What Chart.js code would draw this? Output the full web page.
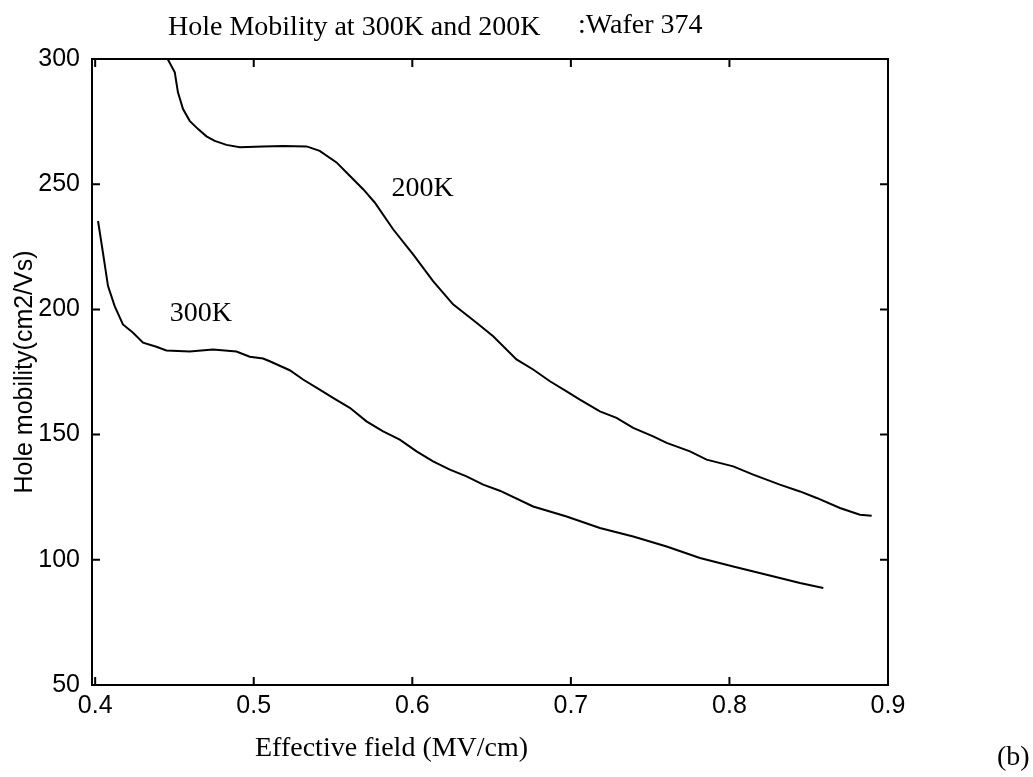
<!DOCTYPE html>
<html>
<head>
<meta charset="utf-8">
<title>Hole Mobility at 300K and 200K</title>
<script src="https://cdn.jsdelivr.net/npm/chart.js@4.4.1/dist/chart.umd.min.js"></script>
<style>
    html, body { margin: 0; padding: 0; background: #fff; }
    canvas { display: block; }
</style>
</head>
<body>
<canvas id="mobilityChart" width="1033" height="777"></canvas>
<script>
// Effective field (MV/cm) and hole mobility (cm2/Vs), 200K sweep
const field200 = [0.4457, 0.4502, 0.4522, 0.4554, 0.4596, 0.4649, 0.4702, 0.4754, 0.4828, 0.4912,
    0.5059, 0.5185, 0.5333, 0.5416, 0.5522, 0.5585, 0.5690, 0.5763, 0.5879, 0.6005,
    0.6131, 0.6257, 0.6405, 0.6510, 0.6657, 0.6762, 0.6868, 0.6973, 0.7057, 0.7183,
    0.7288, 0.7393, 0.7519, 0.7604, 0.7751, 0.7856, 0.8024, 0.8150, 0.8318, 0.8445,
    0.8550, 0.8697, 0.8823, 0.8897];
const mobility200 = [300, 294.7, 286.7, 280, 275.3, 272, 269.1, 267.3, 265.7, 264.8,
    265.1, 265.3, 265.1, 263.3, 258.7, 254.7, 248, 242.7, 232, 222,
    211.3, 202, 194.7, 189.3, 180, 176, 171.3, 167.3, 164, 159.3,
    156.7, 152.7, 149.3, 146.7, 143.3, 140, 137.3, 134, 130, 127.3,
    124.7, 120.7, 118, 117.6];

// 300K sweep
const field300 = [0.4018, 0.4049, 0.4081, 0.4123, 0.4175, 0.4239, 0.4302, 0.4386, 0.4449, 0.4596,
    0.4743, 0.4891, 0.4975, 0.5059, 0.5101, 0.5227, 0.5311, 0.5416, 0.5500, 0.5606,
    0.5711, 0.5816, 0.5921, 0.6027, 0.6131, 0.6237, 0.6342, 0.6447, 0.6552, 0.6762,
    0.6973, 0.7183, 0.7393, 0.7604, 0.7814, 0.8024, 0.8235, 0.8445, 0.8592];
const mobility300 = [235.3, 222.7, 209.3, 201.3, 194, 190.7, 186.7, 185.1, 183.6, 183.2,
    184, 183.2, 181.1, 180.4, 179.3, 175.7, 172, 168, 164.7, 160.7,
    155.3, 151.3, 148, 143.3, 139.3, 136, 133.3, 130, 127.6, 121.3,
    117.3, 112.7, 109.3, 105.3, 100.7, 97.3, 94, 90.7, 88.7];

const xTicks = [0.4, 0.5, 0.6, 0.7, 0.8, 0.9];
const yTicks = [50, 100, 150, 200, 250, 300];

// curve labels, placed in data coordinates (left edge, baseline)
const curveLabels = [
    { text: '200K', x: 0.5869, y: 245.2 },
    { text: '300K', x: 0.4470, y: 195.2 }
];

const toPoints = (xs, ys) => xs.map((x, i) => ({ x: x, y: ys[i] }));

// box around the plot with inward tick marks on all four sides
const frameBox = {
    id: 'frameBox',
    afterDatasetsDraw(chart) {
        const { ctx, chartArea: a, scales } = chart;
        const len = 8;
        ctx.save();
        ctx.strokeStyle = '#000';
        ctx.lineWidth = 2;
        ctx.strokeRect(a.left, a.top, a.right - a.left, a.bottom - a.top);
        ctx.beginPath();
        xTicks.forEach(v => {
            const px = scales.x.getPixelForValue(v);
            ctx.moveTo(px, a.bottom); ctx.lineTo(px, a.bottom - len);
            ctx.moveTo(px, a.top); ctx.lineTo(px, a.top + len);
        });
        yTicks.forEach(v => {
            const py = scales.y.getPixelForValue(v);
            ctx.moveTo(a.left, py); ctx.lineTo(a.left + len, py);
            ctx.moveTo(a.right, py); ctx.lineTo(a.right - len, py);
        });
        ctx.stroke();
        ctx.restore();
    }
};

// title, x-axis title, panel tag and curve labels
const textLayer = {
    id: 'textLayer',
    afterDraw(chart) {
        const { ctx, scales } = chart;
        ctx.save();
        ctx.fillStyle = '#000';
        ctx.textAlign = 'left';
        ctx.textBaseline = 'alphabetic';
        ctx.font = '28px "Liberation Serif"';
        ctx.fillText('Hole Mobility at 300K and 200K', 168, 35);
        ctx.fillText(':Wafer 374', 578, 33);
        ctx.fillText('Effective field (MV/cm)', 255, 756);
        ctx.fillText('(b)', 997, 765);
        curveLabels.forEach(l => {
            ctx.fillText(l.text, scales.x.getPixelForValue(l.x), scales.y.getPixelForValue(l.y));
        });
        ctx.restore();
    }
};

const lineStyle = {
    borderColor: '#000',
    borderWidth: 2,
    pointRadius: 0,
    tension: 0,
    fill: false
};

new Chart(document.getElementById('mobilityChart').getContext('2d'), {
    type: 'line',
    data: {
        datasets: [
            Object.assign({ label: '200K', data: toPoints(field200, mobility200) }, lineStyle),
            Object.assign({ label: '300K', data: toPoints(field300, mobility300) }, lineStyle)
        ]
    },
    options: {
        responsive: false,
        animation: false,
        layout: { padding: { left: 0, right: 145, top: 59, bottom: 0 } },
        plugins: {
            legend: { display: false },
            tooltip: { enabled: false }
        },
        scales: {
            x: {
                type: 'linear',
                min: 0.398,
                max: 0.9,
                afterBuildTicks: scale => { scale.ticks = xTicks.map(v => ({ value: v })); },
                afterFit: scale => { scale.height = 92; },
                grid: { display: false, drawTicks: false },
                border: { display: false },
                ticks: {
                    color: '#000',
                    padding: 6,
                    maxRotation: 0,
                    autoSkip: false,
                    font: { family: '"Liberation Sans"', size: 25 },
                    callback: v => v.toFixed(1)
                }
            },
            y: {
                min: 50,
                max: 300,
                afterBuildTicks: scale => { scale.ticks = yTicks.map(v => ({ value: v })); },
                afterFit: scale => { scale.width = 92; },
                grid: { display: false, drawTicks: false },
                border: { display: false },
                ticks: {
                    color: '#000',
                    padding: 12,
                    font: { family: '"Liberation Sans"', size: 25 }
                },
                title: {
                    display: true,
                    text: 'Hole mobility(cm2/Vs)',
                    color: '#000',
                    padding: { top: 10, bottom: 0 },
                    font: { family: '"Liberation Sans"', size: 25 }
                }
            }
        }
    },
    plugins: [frameBox, textLayer]
});
</script>
</body>
</html>
